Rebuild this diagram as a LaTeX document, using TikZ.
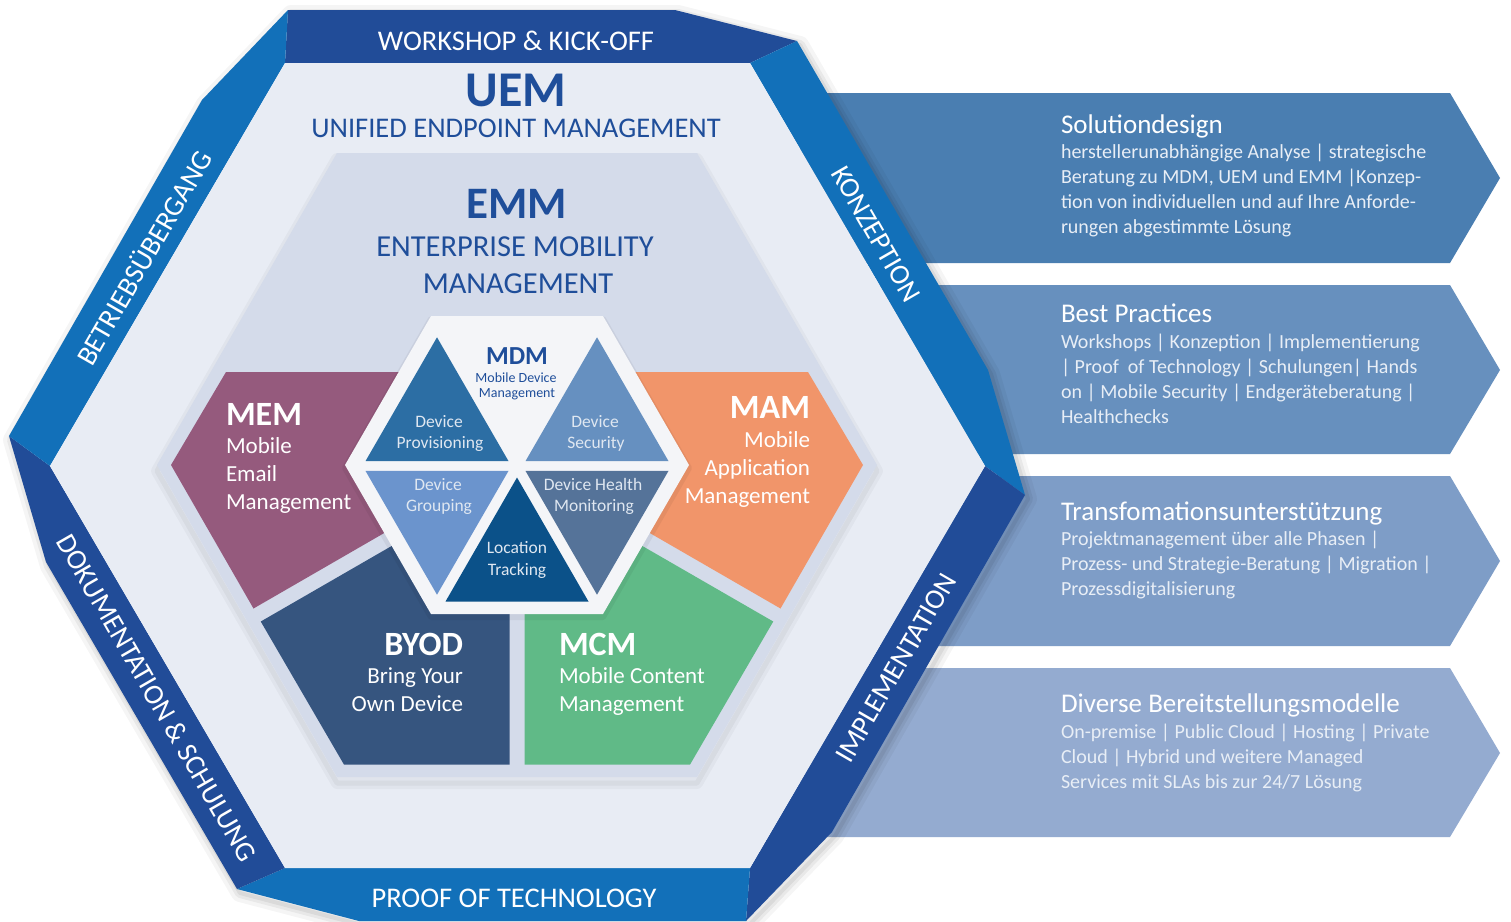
\documentclass[tikz,border=0pt]{standalone}
\usepackage{fontspec}
\setmainfont{Carlito}
\definecolor{dkblue}{HTML}{214C98}
\definecolor{brblue}{HTML}{1270B9}
\definecolor{innerbg}{HTML}{E8ECF4}
\definecolor{emmbg}{HTML}{D4DBEA}
\definecolor{titleblue}{HTML}{1F4E9A}
\definecolor{memc}{HTML}{955A7D}
\definecolor{mamc}{HTML}{F1956A}
\definecolor{byodc}{HTML}{36557F}
\definecolor{mcmc}{HTML}{60BA87}
\definecolor{whitehex}{HTML}{F4F5F8}
\definecolor{tprov}{HTML}{2C6EA4}
\definecolor{tsec}{HTML}{6690C0}
\definecolor{tgrp}{HTML}{6B94CD}
\definecolor{thealth}{HTML}{557399}
\definecolor{tloc}{HTML}{0B5189}
\definecolor{arA}{HTML}{4A7EB1}
\definecolor{arB}{HTML}{6790BE}
\definecolor{arC}{HTML}{7E9DC7}
\definecolor{arD}{HTML}{94ABD0}
\definecolor{arrtext}{HTML}{E8EEF6}
\definecolor{tritext}{HTML}{DFE7F1}
\begin{document}
\begin{tikzpicture}[x=1pt,y=-1pt,
  txt/.style={inner sep=0pt, outer sep=0pt},
  ringtxt/.style={txt, text=white, font=\fontsize{28.5}{32}\selectfont},
  bigtitle/.style={txt, anchor=base, text=titleblue, font=\bfseries\fontsize{50}{54}\selectfont},
  subtitle/.style={txt, anchor=base, text=titleblue, font=\fontsize{28.5}{32}\selectfont},
  tritxt/.style={txt, anchor=base, text=tritext, font=\fontsize{17.5}{20}\selectfont},
  piecehead/.style={txt, text=white, font=\bfseries\fontsize{34}{38}\selectfont},
  piecebody/.style={txt, text=white, font=\fontsize{23}{26}\selectfont},
  arrtitle/.style={txt, anchor=base west, text=white, font=\fontsize{27}{30}\selectfont},
  arrbody/.style={txt, anchor=base west, text=arrtext, font=\fontsize{20}{22}\selectfont},
  outerp/.style={insert path={(288,10) -- (675,10) -- (797,41) -- (988,370) -- (1025,495) -- (832,832) -- (746,921) -- (359,921) -- (237,889) -- (46,562) -- (9,436) -- (202,100) -- cycle}},
  emmp/.style={insert path={(877,465) -- (697,153) -- (337,153) -- (157,465) -- (337,777) -- (697,777) -- cycle}},
  whitep/.style={insert path={(689,465) -- (603,316) -- (431,316) -- (345,465) -- (431,614) -- (603,614) -- cycle}}
]
\useasboundingbox (0,0) rectangle (1511,921);
\fill[white] (0,0) rectangle (1511,921);

% ---------- right arrows ----------
\fill[arA] (800,93) -- (1450,93) -- (1500,178) -- (1450,263) -- (800,263) -- cycle;
\fill[arB] (800,285) -- (1450,285) -- (1500,370) -- (1450,454) -- (800,454) -- cycle;
\fill[arC] (800,476) -- (1450,476) -- (1500,561) -- (1450,646) -- (800,646) -- cycle;
\fill[arD] (800,668) -- (1450,668) -- (1500,753) -- (1450,837) -- (800,837) -- cycle;

\node[arrtitle] (t1) at (1061,133) {Solutiondesign};
\node[arrbody] (b11) at (1061,158) {herstellerunabhängige Analyse | strategische};
\node[arrbody] (b12) at (1061,183) {Beratung zu MDM, UEM und EMM |Konzep-};
\node[arrbody] (b13) at (1061,208) {tion von individuellen und auf Ihre Anforde-};
\node[arrbody] (b14) at (1061,233) {rungen abgestimmte Lösung};

\node[arrtitle] (t2) at (1061,322) {Best Practices};
\node[arrbody] (b21) at (1061,348) {Workshops | Konzeption | Implementierung};
\node[arrbody] (b22) at (1061,373) {| Proof\ \ of Technology | Schulungen| Hands};
\node[arrbody] (b23) at (1061,398) {on | Mobile Security | Endgeräteberatung |};
\node[arrbody] (b24) at (1061,423) {Healthchecks};

\node[arrtitle] (t3) at (1061,520) {Transfomationsunterstützung};
\node[arrbody] (b31) at (1061,545) {Projektmanagement über alle Phasen |};
\node[arrbody] (b32) at (1061,570) {Prozess- und Strategie-Beratung | Migration |};
\node[arrbody] (b33) at (1061,595) {Prozessdigitalisierung};

\node[arrtitle] (t4) at (1061,712) {Diverse Bereitstellungsmodelle};
\node[arrbody] (b41) at (1061,738) {On-premise | Public Cloud | Hosting | Private};
\node[arrbody] (b42) at (1061,763) {Cloud | Hybrid und weitere Managed};
\node[arrbody] (b43) at (1061,788) {Services mit SLAs bis zur 24/7 Lösung};

% ---------- ring shadow ----------
\begin{scope}[shift={(3,4)}]
  \draw[black, opacity=0.04, line width=18pt, line join=round, outerp];
  \draw[black, opacity=0.05, line width=10pt, line join=round, outerp];
  \draw[black, opacity=0.06, line width=4pt, line join=round, outerp];
\end{scope}

% ---------- ring bands ----------
\fill[dkblue] (288,10) -- (675,10) -- (797,41) -- (750,63) -- (285,63) -- cycle;
\fill[brblue] (797,41) -- (988,370) -- (1025,495) -- (985,466) -- (750,63) -- cycle;
\fill[dkblue] (1025,495) -- (832,832) -- (746,921) -- (750,868) -- (985,466) -- cycle;
\fill[brblue] (746,921) -- (359,921) -- (237,889) -- (285,868) -- (750,868) -- cycle;
\fill[dkblue] (237,889) -- (46,562) -- (9,436) -- (50,466) -- (285,868) -- cycle;
\fill[brblue] (9,436) -- (202,100) -- (288,10) -- (285,63) -- (50,466) -- cycle;

% ---------- inner hexagon ----------
\fill[innerbg] (285,63) -- (750,63) -- (985,466) -- (750,868) -- (285,868) -- (50,466) -- cycle;

% ---------- EMM hexagon ----------
\begin{scope}[shift={(0,6)}]
  \draw[black, opacity=0.03, line width=12pt, line join=round, emmp];
  \draw[black, opacity=0.04, line width=5pt, line join=round, emmp];
\end{scope}
\fill[emmbg, emmp];

% ---------- pieces ----------
\fill[memc] (226,372) -- (517,372) -- (513.25,458.5) -- (253.5,608.5) -- (171,465) -- cycle;
\fill[mamc] (808,372) -- (517,372) -- (520.75,458.5) -- (780.5,608.5) -- (863,465) -- cycle;
\fill[byodc] (260.75,621.5) -- (509.5,478) -- (509.5,764.6) -- (344,764.6) -- cycle;
\fill[mcmc] (773.25,621.5) -- (524.5,478) -- (524.5,764.6) -- (690,764.6) -- cycle;

% ---------- white hexagon ----------
\begin{scope}[shift={(0,3)}]
  \draw[black, opacity=0.05, line width=6pt, line join=round, whitep];
\end{scope}
\fill[whitehex, whitep];

% ---------- triangles ----------
\fill[tprov] (437,337.3) -- (508.5,461.1) -- (365.5,461.1) -- cycle;
\fill[tsec] (597,337.3) -- (668.5,461.1) -- (525.5,461.1) -- cycle;
\fill[tgrp] (365.5,470.9) -- (508.5,470.9) -- (437,594.7) -- cycle;
\fill[thealth] (525.5,470.9) -- (668.5,470.9) -- (597,594.7) -- cycle;
\fill[tloc] (517,477.5) -- (588.5,601.5) -- (445.5,601.5) -- cycle;

% ---------- ring labels ----------
\node[ringtxt, anchor=base] (workshop) at (516,50) {WORKSHOP \& KICK-OFF};
\node[ringtxt, anchor=base] (proof) at (514,907) {PROOF OF TECHNOLOGY};
\node[ringtxt, rotate=60] (betrieb) at (143,257) {BETRIEBSÜBERGANG};
\node[ringtxt, rotate=-60] (konz) at (876,234) {KONZEPTION};
\node[ringtxt, rotate=-60] (doku) at (157,698) {DOKUMENTATION \& SCHULUNG};
\node[ringtxt, rotate=60] (impl) at (896,668) {IMPLEMENTATION};

% ---------- titles ----------
\node[bigtitle] (uem) at (516,106) {UEM};
\node[subtitle] (uemsub) at (516,137) {UNIFIED ENDPOINT MANAGEMENT};
\node[bigtitle, font=\bfseries\fontsize{45}{50}\selectfont] (emm) at (517,218) {EMM};
\node[subtitle, font=\fontsize{30.5}{34}\selectfont] (emmsub1) at (515,256) {ENTERPRISE MOBILITY};
\node[subtitle, font=\fontsize{30.5}{34}\selectfont] (emmsub2) at (518,293) {MANAGEMENT};

% ---------- MDM ----------
\node[txt, anchor=base, text=titleblue, font=\bfseries\fontsize{26}{28}\selectfont] (mdm) at (517,364) {MDM};
\node[txt, anchor=base, text=titleblue, font=\fontsize{14}{16}\selectfont] (mdm1) at (516,382) {Mobile Device};
\node[txt, anchor=base, text=titleblue, font=\fontsize{14}{16}\selectfont] (mdm2) at (517,397) {Management};

\node[tritxt] (prov1) at (439,427) {Device};
\node[tritxt] (prov2) at (440,448) {Provisioning};
\node[tritxt] (sec1) at (595,427) {Device};
\node[tritxt] (sec2) at (596,448) {Security};
\node[tritxt] (grp1) at (438,490) {Device};
\node[tritxt] (grp2) at (439,511) {Grouping};
\node[tritxt] (hl1) at (593,490) {Device Health};
\node[tritxt] (hl2) at (594,511) {Monitoring};
\node[tritxt] (loc1) at (517,553) {Location};
\node[tritxt] (loc2) at (517,575) {Tracking};

% ---------- piece texts ----------
\node[piecehead, anchor=base west] (mem) at (226,425) {MEM};
\node[piecebody, anchor=base west] (mem1) at (226,453) {Mobile};
\node[piecebody, anchor=base west] (mem2) at (226,481) {Email};
\node[piecebody, anchor=base west] (mem3) at (226,509) {Management};

\node[piecehead, anchor=base east] (mam) at (810,418) {MAM};
\node[piecebody, anchor=base east] (mam1) at (810,447) {Mobile};
\node[piecebody, anchor=base east] (mam2) at (810,475) {Application};
\node[piecebody, anchor=base east] (mam3) at (810,503) {Management};

\node[piecehead, anchor=base east] (byod) at (463,655) {BYOD};
\node[piecebody, anchor=base east] (byod1) at (463,683) {Bring Your};
\node[piecebody, anchor=base east] (byod2) at (463,711) {Own Device};

\node[piecehead, anchor=base west] (mcm) at (559,655) {MCM};
\node[piecebody, anchor=base west] (mcm1) at (559,683) {Mobile Content};
\node[piecebody, anchor=base west] (mcm2) at (559,711) {Management};
\end{tikzpicture}
\end{document}
